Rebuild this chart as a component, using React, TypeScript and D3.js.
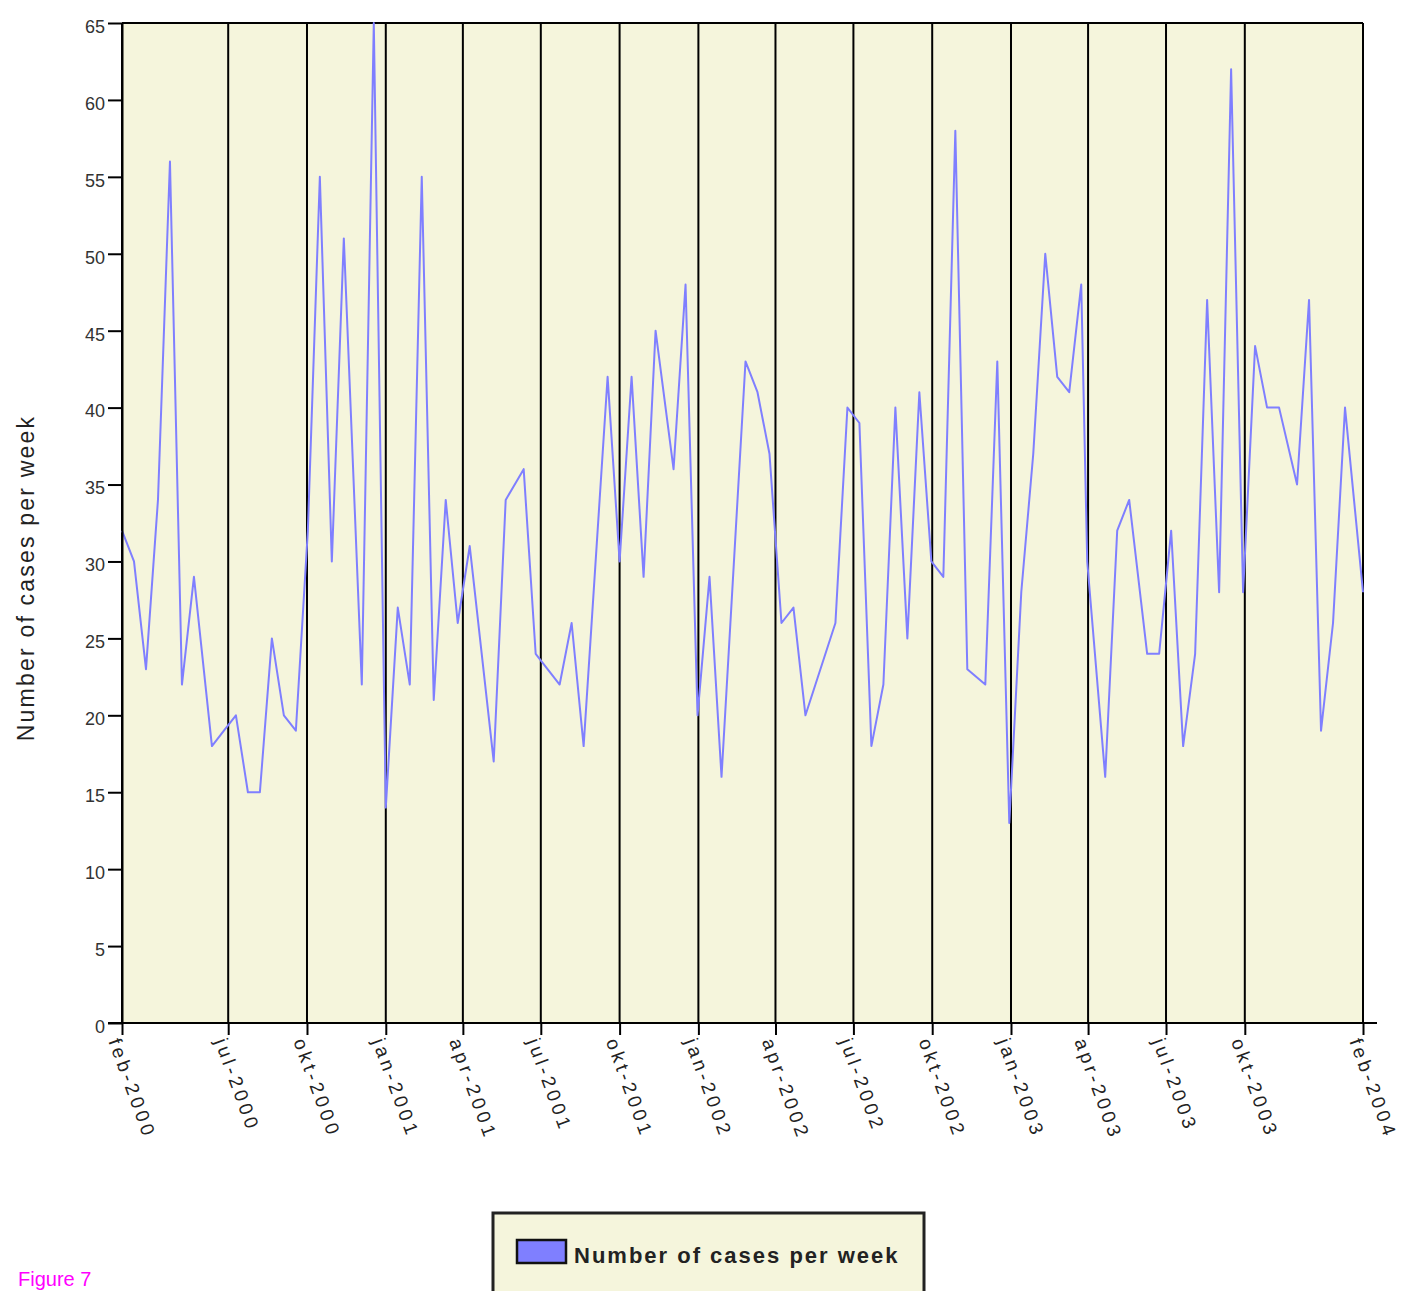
import React, { useEffect, useRef } from "react";
import * as d3 from "d3";

// weekly reports, counted in weeks from the first report (28 Feb 2000)
const startDate = new Date(2000, 1, 28);
const weekOffsets = [
	0, 2, 4, 6, 8, 10, 12, 15, 17, 19, 21, 23, 25, 27, 29, 31, 33, 35, 37, 40, 42, 44, 46, 48, 50, 52, 54, 56, 58, 62,
	64, 67, 69, 73, 75, 77, 81, 83, 85, 87, 89, 92, 94, 96, 98, 100, 104, 106, 108, 110, 112, 114, 119, 121, 123, 125,
	127, 129, 131, 133, 135, 137, 139, 141, 144, 146, 148, 150, 152, 154, 156, 158, 160, 161, 164, 166, 168, 171, 173,
	175, 177, 179, 181, 183, 185, 187, 189, 191, 193, 196, 198, 200, 202, 204, 207,
];
const caseCounts = [
	32, 30, 23, 34, 56, 22, 29, 18, 19, 20, 15, 15, 25, 20, 19, 32, 55, 30, 51, 22, 65, 14, 27, 22, 55, 21, 34, 26, 31, 17,
	34, 36, 24, 22, 26, 18, 42, 30, 42, 29, 45, 36, 48, 20, 29, 16, 43, 41, 37, 26, 27, 20, 26, 40, 39, 18, 22, 40, 25, 41,
	30, 29, 58, 23, 22, 43, 13, 28, 37, 50, 42, 41, 48, 30, 16, 32, 34, 24, 24, 32, 18, 24, 47, 28, 62, 28, 44, 40, 40,
	35, 47, 19, 26, 40, 28,
];

const yTicks = [0, 5, 10, 15, 20, 25, 30, 35, 40, 45, 50, 55, 60, 65];
const tickDates = [
	"2000-02-28", "2000-07-01", "2000-10-01", "2001-01-01", "2001-04-01", "2001-07-01", "2001-10-01", "2002-01-01",
	"2002-04-01", "2002-07-01", "2002-10-01", "2003-01-01", "2003-04-01", "2003-07-01", "2003-10-01", "2004-02-16",
];
const tickLabels = [
	"feb-2000", "jul-2000", "okt-2000", "jan-2001", "apr-2001", "jul-2001", "okt-2001", "jan-2002",
	"apr-2002", "jul-2002", "okt-2002", "jan-2003", "apr-2003", "jul-2003", "okt-2003", "feb-2004",
];
const seriesName = "Number of cases per week";
const figureCaption = "Figure 7";

export default function App() {
	const svgRef = useRef(null);

	useEffect(() => {
		const svg = d3.select(svgRef.current);
		svg.selectAll("*").remove();

		const width = 1401;
		const height = 1291;
		const font = "'Liberation Sans', Arial, sans-serif";

		const parse = d3.timeParse("%Y-%m-%d");
		const data = weekOffsets.map((w, i) => ({ date: d3.timeWeek.offset(startDate, w), value: caseCounts[i] }));
		const ticks = tickDates.map((d) => parse(d));

		const x = d3
			.scaleTime()
			.domain(d3.extent(data, (d) => d.date))
			.range([122, 1363]);
		const y = d3.scaleLinear().domain([0, 65]).range([1023, 23]);

		const [x0, x1] = x.range();
		const [yb, yt] = y.range();

		svg.attr("width", width).attr("height", height).attr("viewBox", [0, 0, width, height]);

		// plot background
		svg
			.append("rect")
			.attr("x", x0)
			.attr("y", yt)
			.attr("width", x1 - x0)
			.attr("height", yb - yt)
			.attr("fill", "#f5f5dc");

		// vertical date lines
		svg
			.append("g")
			.attr("stroke", "#000")
			.attr("stroke-width", 2)
			.selectAll()
			.data(ticks)
			.join("line")
			.attr("x1", (d) => x(d))
			.attr("x2", (d) => x(d))
			.attr("y1", yb)
			.attr("y2", yt);

		// top border
		svg
			.append("line")
			.attr("x1", x0)
			.attr("x2", x1)
			.attr("y1", yt)
			.attr("y2", yt)
			.attr("stroke", "#000")
			.attr("stroke-width", 2);

		// the series
		svg
			.append("path")
			.datum(data)
			.attr("fill", "none")
			.attr("stroke", "#7f7fff")
			.attr("stroke-width", 2)
			.attr("stroke-linejoin", "round")
			.attr(
				"d",
				d3
					.line()
					.x((d) => x(d.date))
					.y((d) => y(d.value)),
			);

		// y axis
		const yAxis = svg
			.append("g")
			.attr("transform", `translate(${x0},0)`)
			.call(d3.axisLeft(y).tickValues(yTicks).tickSize(14).tickSizeOuter(0).tickPadding(3));
		yAxis.select(".domain").attr("stroke", "#000").attr("stroke-width", 2);
		yAxis.selectAll(".tick line").attr("stroke", "#000").attr("stroke-width", 2);
		yAxis
			.selectAll(".tick text")
			.attr("dy", "0.52em")
			.attr("fill", "#333")
			.style("font-family", font)
			.style("font-size", "18px");

		// x axis line, running a little past both ends
		svg
			.append("line")
			.attr("x1", x0 - 14)
			.attr("x2", x1 + 14)
			.attr("y1", yb)
			.attr("y2", yb)
			.attr("stroke", "#000")
			.attr("stroke-width", 2);

		const xAxis = svg
			.append("g")
			.attr("transform", `translate(0,${yb})`)
			.call(
				d3
					.axisBottom(x)
					.tickValues(ticks)
					.tickSize(12)
					.tickFormat((d, i) => tickLabels[i]),
			);
		xAxis.select(".domain").remove();
		xAxis.selectAll(".tick line").attr("stroke", "#000").attr("stroke-width", 2);
		xAxis
			.selectAll(".tick text")
			.attr("x", 0)
			.attr("y", 0)
			.attr("dy", "0.8em")
			.attr("transform", "translate(0,13) rotate(70)")
			.attr("text-anchor", "start")
			.attr("fill", "#222")
			.style("font-family", font)
			.style("font-size", "19px")
			.style("letter-spacing", "3.8px");

		// y axis title
		svg
			.append("text")
			.attr("transform", `translate(34,${(yt + yb) / 2 + 55}) rotate(-90)`)
			.attr("text-anchor", "middle")
			.attr("fill", "#222")
			.style("font-family", font)
			.style("font-size", "23px")
			.style("letter-spacing", "2.2px")
			.text(seriesName);

		// legend
		const legend = svg.append("g").attr("transform", "translate(493,1213)");
		legend
			.append("rect")
			.attr("width", 431)
			.attr("height", 100)
			.attr("fill", "#f5f5dc")
			.attr("stroke", "#222")
			.attr("stroke-width", 3);
		legend
			.append("rect")
			.attr("x", 24)
			.attr("y", 27)
			.attr("width", 49)
			.attr("height", 23)
			.attr("fill", "#7f7fff")
			.attr("stroke", "#111")
			.attr("stroke-width", 2.5);
		legend
			.append("text")
			.attr("x", 81)
			.attr("y", 50)
			.attr("fill", "#222")
			.style("font-family", font)
			.style("font-size", "22px")
			.style("font-weight", "bold")
			.style("letter-spacing", "2px")
			.text(seriesName);

		svg
			.append("text")
			.attr("x", 18)
			.attr("y", 1286)
			.attr("fill", "#ff00ff")
			.style("font-family", font)
			.style("font-size", "20px")
			.text(figureCaption);
	}, []);

	return (
		<div style={{ position: "absolute", left: 0, top: 0, background: "#fff" }}>
			<svg ref={svgRef} style={{ display: "block" }} />
		</div>
	);
}
